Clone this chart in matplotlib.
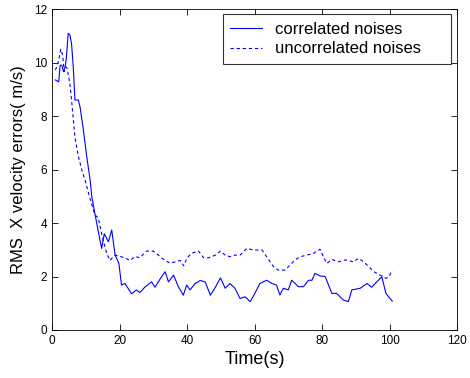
import matplotlib
matplotlib.use("Agg")
import matplotlib.pyplot as plt

plt.rcParams["font.family"] = ["Liberation Sans", "DejaVu Sans"]

# correlated noises (solid)
corr_t = [1, 2, 2.4, 2.9, 3.4, 3.9, 4.2, 4.8, 5.3, 5.8, 6.3, 6.8, 7.8, 8.3, 9.3,
          10.3, 11.3, 11.8, 12.7, 13.7, 14.7, 15.5, 16.7, 17.7, 18.7, 19.8, 20.6,
          21.6, 23.6, 25, 26, 27.5, 29.5, 30.5, 32, 33.5, 34.5, 36, 37.5, 38.9,
          39.9, 40.9, 42.4, 43.9, 45.4, 46.9, 48.4, 49.9, 51.3, 52.7, 54.2, 55.7,
          57.2, 58.7, 60.1, 61.6, 63.6, 65.1, 66.5, 67.5, 68.5, 70, 71, 73, 74.5,
          76, 77, 77.9, 79.4, 80.9, 82.9, 84.3, 86.3, 87.8, 88.8, 91.3, 93.3,
          94.7, 96.2, 97.7, 98.9, 100.1, 100.8]
corr_v = [9.35, 9.28, 9.9, 9.9, 9.66, 9.84, 10.1, 11.09, 11.03, 10.7, 9.84, 8.6,
          8.6, 8.35, 7.48, 6.48, 5.6, 4.98, 4.36, 3.7, 3.05, 3.6, 3.3, 3.74, 2.8,
          2.5, 1.68, 1.74, 1.35, 1.5, 1.4, 1.6, 1.8, 1.6, 1.9, 2.18, 1.8, 2.05,
          1.6, 1.3, 1.68, 1.5, 1.74, 1.85, 1.8, 1.3, 1.6, 1.95, 1.56, 1.74, 1.56,
          1.18, 1.24, 1.06, 1.37, 1.74, 1.86, 1.74, 1.68, 1.31, 1.56, 1.5, 1.86,
          1.62, 1.62, 1.86, 1.86, 2.12, 2.02, 2.0, 1.37, 1.37, 1.12, 1.06, 1.5,
          1.56, 1.74, 1.6, 1.8, 1.99, 1.37, 1.18, 1.08]

# uncorrelated noises (dashed)
uncorr_t = [1, 1.4, 1.9, 2.6, 3.2, 3.6, 4.1, 4.5, 5.3, 5.8, 6.3, 6.8, 7.8, 8.8,
            9.8, 11.3, 12.7, 13.7, 14.7, 16.2, 17.2, 18.2, 18.7, 20.2, 21.6, 23.1,
            24.6, 26, 28, 30, 31.5, 33.5, 35, 36.5, 38, 39, 40, 41.4, 43.4, 44.9,
            46.4, 48.4, 49.9, 51.3, 52.7, 54.2, 55.7, 57.7, 59.7, 62.2, 63.6, 65.6,
            67, 69, 70.5, 72, 73.5, 75.5, 77.5, 79.4, 80.4, 81.4, 82.9, 84.9, 86.9,
            89.3, 90.8, 92.3, 93.8, 95.3, 97.3, 98.9, 99.8, 100.8]
uncorr_v = [9.72, 9.84, 10.03, 10.5, 10.26, 9.66, 9.84, 9.78, 9.2, 8.6, 7.9, 7.2,
            6.5, 6.0, 5.6, 4.9, 4.3, 4.2, 3.6, 2.87, 2.6, 2.75, 2.8, 2.75, 2.7,
            2.6, 2.75, 2.7, 2.95, 2.95, 2.8, 2.6, 2.5, 2.55, 2.6, 2.4, 2.7, 2.87,
            2.95, 2.7, 2.7, 2.8, 2.95, 2.8, 2.74, 2.8, 2.8, 3.05, 2.99, 2.99, 2.74,
            2.37, 2.24, 2.24, 2.43, 2.62, 2.74, 2.8, 2.87, 3.02, 2.74, 2.49, 2.64,
            2.55, 2.62, 2.55, 2.68, 2.55, 2.37, 2.18, 2.05, 1.93, 1.99, 2.24]

x_ticks = [0, 20, 40, 60, 80, 100, 120]
y_ticks = [0, 2, 4, 6, 8, 10, 12]

fig = plt.figure(figsize=(4.70, 3.78), dpi=100)
ax = fig.add_axes([0.1106, 0.127, 0.862, 0.849])

ax.plot(corr_t, corr_v, color="blue", linewidth=0.8, label="correlated noises")
ax.plot(uncorr_t, uncorr_v, color="blue", linewidth=0.8, linestyle=(0, (3, 2.5)),
        label="uncorrelated noises")

ax.set_xlim(0, 120)
ax.set_ylim(0, 12)
ax.set_xticks(x_ticks)
ax.set_yticks(y_ticks)
ax.tick_params(direction="in", top=True, right=True, labelsize=8.5, length=4, width=0.6)
for s in ax.spines.values():
    s.set_linewidth(0.6)

ax.set_xlabel("Time(s)", fontsize=13, labelpad=3)
ax.set_ylabel("RMS  X velocity errors( m/s)", fontsize=12, labelpad=6)

# box stretched to the reference width, entries left aligned
leg = ax.legend(loc="upper left", bbox_to_anchor=(0.422, 0.835, 0.563, 0.149),
                mode="expand", fontsize=12, frameon=True, fancybox=False,
                handlelength=1.9, borderpad=0.45, labelspacing=0.28,
                handletextpad=0.8, borderaxespad=0)
leg.get_frame().set_edgecolor("black")
leg.get_frame().set_linewidth(0.8)

fig.savefig("out.png", dpi=100)
